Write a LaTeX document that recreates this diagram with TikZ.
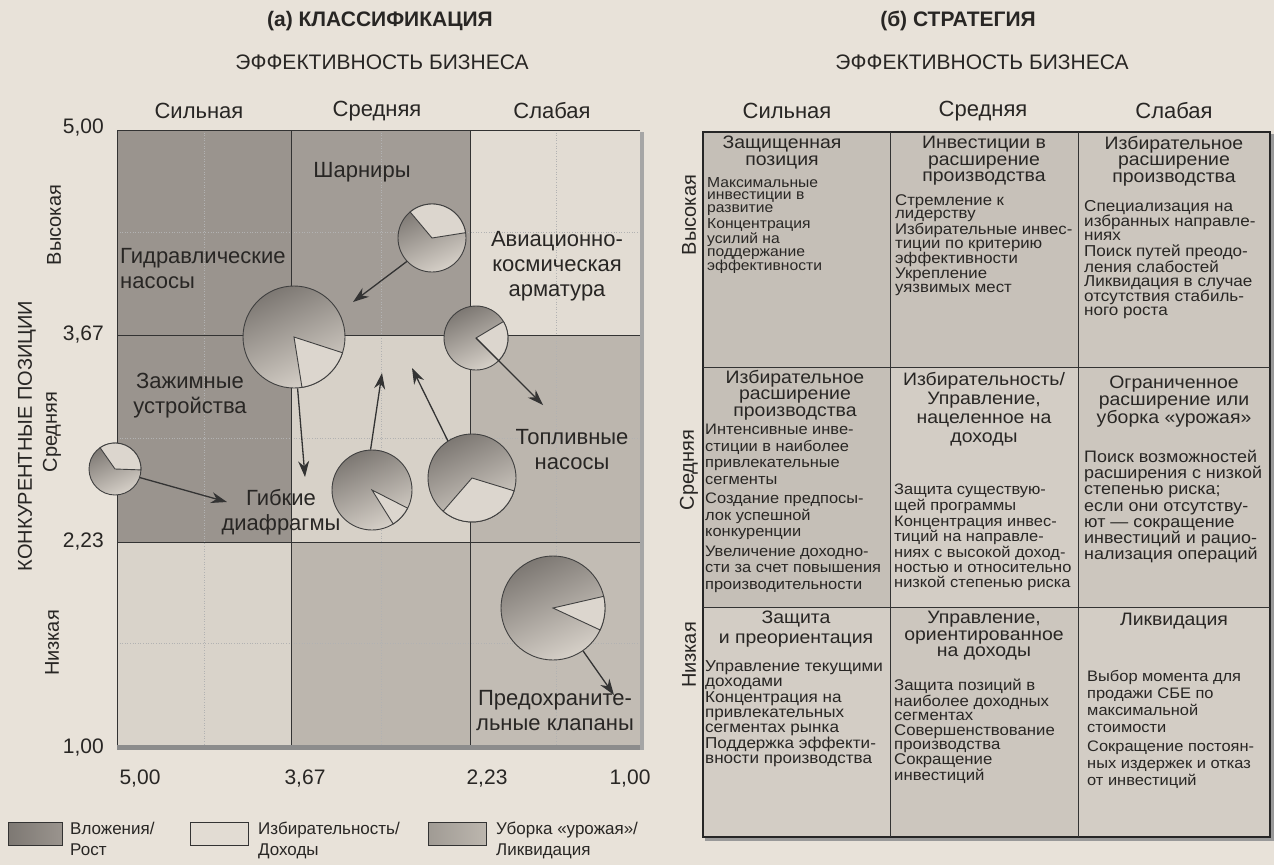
\documentclass[tikz,border=0pt]{standalone}
\usepackage{fontspec}
\setmainfont{Liberation Sans}
\newfontfamily\wf{Liberation Sans}[FakeStretch=1.08]
\usetikzlibrary{arrows.meta}
\definecolor{paper}{RGB}{232,226,217}
\definecolor{ink}{RGB}{40,38,36}
\definecolor{cdark}{RGB}{154,148,142}
\definecolor{cdarkB}{RGB}{162,156,150}
\definecolor{clight}{RGB}{226,220,211}
\definecolor{cmed}{RGB}{188,182,174}
\definecolor{pietop}{RGB}{125,120,115}
\definecolor{piebot}{RGB}{214,208,200}
\definecolor{sect}{RGB}{220,214,206}
\definecolor{tA}{RGB}{197,191,183}
\definecolor{tB}{RGB}{204,198,190}
\definecolor{tC}{RGB}{211,205,197}
\newcommand\piesector[4]{\filldraw[sector] (#1.center) -- ++(#3:#2pt) arc[start angle=#3, end angle=#4, radius=#2pt] -- cycle;}
\newcommand\fs[2]{\wf\fontsize{#1}{#2}\selectfont}
\begin{document}
\begin{tikzpicture}[x=1pt,y=-1pt,
  lbl/.style={font=\fontsize{22}{25}\selectfont, inner sep=0pt, align=center, text=ink},
  num/.style={font=\fontsize{21}{24}\selectfont, inner sep=0pt, text=ink},
  ttl/.style={font=\bfseries\fontsize{21}{24}\selectfont, inner sep=0pt, text=ink},
  rot/.style={font=\fontsize{20}{22}\selectfont, inner sep=0pt, rotate=90, text=ink},
  pie/.style={circle, draw=black!75, line width=0.9pt, inner sep=0pt, top color=pietop, bottom color=piebot, shading angle=25},
  sector/.style={fill=sect, draw=black!75, line width=0.9pt},
  arr/.style={draw=black!80, line width=1.3pt, -{Stealth[length=16pt,width=11pt]}},
  grid/.style={draw=black!80, line width=0.9pt},
  faint/.style={draw=black!30, line width=0.6pt, dotted},
  head/.style={align=center, inner sep=0pt, anchor=north, text=ink},
  body/.style={align=left, inner sep=0pt, anchor=north west, text=ink},
  leg/.style={font=\fontsize{17}{21}\selectfont, align=left, inner sep=0pt, anchor=north west, text=ink},
  swatch/.style={draw=black!80, line width=0.9pt}
]
\fill[paper] (0,0) rectangle (1274,865);
\useasboundingbox (0,0) rectangle (1274,865);

% ===== (a) classification =====
\node[ttl] (ta) at (380,21) {(а) КЛАССИФИКАЦИЯ};
\node[lbl, font=\fontsize{21}{24}\selectfont] (ea) at (382,62) {ЭФФЕКТИВНОСТЬ БИЗНЕСА};
\node[lbl] (ha1) at (199,111) {Сильная};
\node[lbl] (ha2) at (377,111) {Средняя};
\node[lbl] (ha3) at (552,111) {Слабая};

% cells
\fill[cdark] (117,130) rectangle (291,335);
\fill[cdarkB] (291,130) rectangle (470,335);
\fill[clight] (470,130) rectangle (640,335);
\fill[cdark] (117,335) rectangle (291,542);
\fill[clight!95!black] (291,335) rectangle (470,542);
\fill[cmed] (470,335) rectangle (640,542);
\fill[clight!96!black] (117,542) rectangle (291,745);
\fill[cmed] (291,542) rectangle (470,745);
\fill[cmed!85!clight] (470,542) rectangle (640,745);
% faint dotted grid
\foreach \xx in {204,381,556} \draw[faint] (\xx,130) -- (\xx,745);
\foreach \yy in {232,438,643} \draw[faint] (117,\yy) -- (640,\yy);
% shadow strips
\fill[black!45] (117,745) rectangle (644,750);
\fill[black!35] (640,132) rectangle (644,750);
% grid lines
\draw[grid] (117,130) -- (640,130);
\draw[grid] (117,130) -- (117,745);
\draw[grid] (291,130) -- (291,745);
\draw[grid] (470,130) -- (470,745);
\draw[grid] (117,335) -- (640,335);
\draw[grid] (117,542) -- (640,542);

% axis numbers
\node[num, anchor=east] (y5) at (104,128) {5,00};
\node[num, anchor=east] (y3) at (104,335) {3,67};
\node[num, anchor=east] (y2) at (104,542) {2,23};
\node[num, anchor=east] (y1) at (104,747) {1,00};
\node[num] (x5) at (140,778) {5,00};
\node[num] (x3) at (305,778) {3,67};
\node[num] (x2) at (487,778) {2,23};
\node[num] (x1) at (630,778) {1,00};
\node[rot] (rh) at (54,225) {Высокая};
\node[rot] (rm) at (52,432) {Средняя};
\node[rot] (rl) at (52,643) {Низкая};
\node[rot] (axy) at (27,436) {КОНКУРЕНТНЫЕ ПОЗИЦИИ};

% cell labels
\node[lbl, align=left, anchor=west] (lg) at (120,269) {Гидравлические\\насосы};
\node[lbl] (lsh) at (362,172) {Шарниры};
\node[lbl] (lav) at (557,266) {Авиационно-\\космическая\\арматура};
\node[lbl] (lza) at (190,396) {Зажимные\\устройства};
\node[lbl] (lto) at (572,450) {Топливные\\насосы};
\node[lbl] (lgi) at (281,512) {Гибкие\\диафрагмы};
\node[lbl] (lpr) at (555,711) {Предохраните-\\льные клапаны};

% pies
\node[pie, minimum size=102pt] (p1) at (294,337) {};
\piesector{p1}{51}{-81}{-18}
\node[pie, minimum size=68pt] (p2) at (432,238) {};
\piesector{p2}{34}{9}{130}
\node[pie, minimum size=80pt] (p3) at (372,490) {};
\piesector{p3}{40}{-58}{-27}
\node[pie, minimum size=88pt] (p4) at (472,478) {};
\piesector{p4}{44}{-131}{-17}
\node[pie, minimum size=64pt] (p5) at (476,338) {};
\piesector{p5}{32}{-45}{31}
\node[pie, minimum size=52pt] (p6) at (115,469) {};
\piesector{p6}{26}{-2}{125}
\node[pie, minimum size=104pt] (p7) at (553,608) {};
\piesector{p7}{52}{-25}{13}

% arrows
\coordinate (t1) at (353,302);
\coordinate (t2) at (305,477);
\coordinate (t3) at (382,373);
\coordinate (t4) at (412,368);
\coordinate (t5) at (543,405);
\coordinate (t6) at (227,502);
\coordinate (t7) at (614,695);
\draw[arr] (p2.-137) -- (t1);
\draw[arr] (p1.-86) -- (t2);
\draw[arr] (p3.92) -- (t3);
\draw[arr] (p4.123) -- (t4);
\draw[arr] (p5.center) -- (t5);
\draw[arr] (p6.-19) -- (t6);
\draw[arr] (p7.-55) -- (t7);

% legend
\shade[swatch, left color=pietop, right color=cdark] (8,822) rectangle (62,845);
\node[leg] (lg1) at (70,822) {Вложения/\\Рост};
\fill[swatch, fill=clight] (190,822) rectangle (248,845);
\node[leg] (lg2) at (258,822) {Избирательность/\\Доходы};
\shade[swatch, left color=cmed!85!black, right color=cmed] (428,822) rectangle (486,845);
\node[leg] (lg3) at (496,822) {Уборка «урожая»/\\Ликвидация};

% ===== (б) strategy =====
\node[ttl] (tb) at (958,21) {(б) СТРАТЕГИЯ};
\node[lbl, font=\fontsize{21}{24}\selectfont] (eb) at (982,62) {ЭФФЕКТИВНОСТЬ БИЗНЕСА};
\node[lbl] (hb1) at (787,111) {Сильная};
\node[lbl] (hb2) at (983,111) {Средняя};
\node[lbl] (hb3) at (1174,111) {Слабая};

\fill[tA] (703,132) rectangle (890,367);
\fill[tA!95!paper] (890,132) rectangle (1078,367);
\fill[tB] (1078,132) rectangle (1270,367);
\fill[tA] (703,367) rectangle (890,607);
\fill[tC] (890,367) rectangle (1078,607);
\fill[tB] (1078,367) rectangle (1270,607);
\fill[tC] (703,607) rectangle (890,837);
\fill[tB] (890,607) rectangle (1078,837);
\fill[tC] (1078,607) rectangle (1270,837);
\fill[black!40] (705,837) rectangle (1274,841);
\fill[black!40] (1270,134) rectangle (1274,841);
\draw[black!85, line width=1.2pt] (703,132) rectangle (1270,837);
\draw[grid] (890,132) -- (890,837);
\draw[grid] (1078,132) -- (1078,837);
\draw[grid] (703,367) -- (1270,367);
\draw[grid] (703,607) -- (1270,607);

\node[rot] (rbh) at (689,215) {Высокая};
\node[rot] (rbm) at (689,470) {Средняя};
\node[rot] (rbl) at (689,655) {Низкая};

% row 1
\node[head, font=\fs{18}{16.5}] (h11) at (782,136) {Защищенная\\позиция};
\node[body, font=\fs{14.5}{12.8}] (b11) at (707,177) {Максимальные\\инвестиции в\\развитие\\[2pt]Концентрация\\усилий на\\поддержание\\эффективности};
\node[head, font=\fs{18}{16.5}] (h12) at (984,136) {Инвестиции в\\расширение\\производства};
\node[body, font=\fs{15.5}{13.8}] (b12) at (895,194) {Стремление к\\лидерству\\Избирательные инвес-\\тиции по критерию\\эффективности\\Укрепление\\уязвимых мест};
\node[head, font=\fs{18}{16.5}] (h13) at (1174,136) {Избирательное\\расширение\\производства};
\node[body, font=\fs{15.8}{13.7}] (b13) at (1084,200) {Специализация на\\избранных направле-\\ниях\\[2pt]Поиск путей преодо-\\ления слабостей\\Ликвидация в случае\\отсутствия стабиль-\\ного роста};
% row 2
\node[head, font=\fs{18}{16.5}] (h21) at (795,370) {Избирательное\\расширение\\производства};
\node[body, font=\fs{15.2}{16.5}] (b21) at (705,424) {Интенсивные инве-\\стиции в наиболее\\привлекательные\\сегменты\\[3pt]Создание предпосы-\\лок успешной\\конкуренции\\[3pt]Увеличение доходно-\\сти за счет повышения\\производительности};
\node[head, font=\fs{18}{19}] (h22) at (984,372) {Избирательность/\\Управление,\\нацеленное на\\доходы};
\node[body, font=\fs{15.2}{15.3}] (b22) at (894,484) {Защита существую-\\щей программы\\[1pt]Концентрация инвес-\\тиций на направле-\\ниях с высокой доход-\\ностью и относительно\\низкой степенью риска};
\node[head, font=\fs{18}{16.5}] (h23) at (1174,376) {Ограниченное\\расширение или\\уборка «урожая»};
\node[body, font=\fs{16.6}{16.2}] (b23) at (1084,450) {Поиск возможностей\\расширения с низкой\\степенью риска;\\если они отсутству-\\ют — сокращение\\инвестиций и рацио-\\нализация операций};
% row 3
\node[head, font=\fs{18}{20}] (h31) at (796,611) {Защита\\и преориентация};
\node[body, font=\fs{15.8}{15}] (b31) at (705,660) {Управление текущими\\доходами\\[1pt]Концентрация на\\привлекательных\\сегментах рынка\\[1pt]Поддержка эффекти-\\вности производства};
\node[head, font=\fs{18}{16.5}] (h32) at (984,611) {Управление,\\ориентированное\\на доходы};
\node[body, font=\fs{15.5}{14.2}] (b32) at (894,679) {Защита позиций в\\наиболее доходных\\сегментах\\[1pt]Совершенствование\\производства\\[1pt]Сокращение\\инвестиций};
\node[head, font=\fs{18}{16.5}] (h33) at (1174,613) {Ликвидация};
\node[body, font=\fs{15.2}{17}] (b33) at (1087,670) {Выбор момента для\\продажи СБЕ по\\максимальной\\стоимости\\[2pt]Сокращение постоян-\\ных издержек и отказ\\от инвестиций};
\end{tikzpicture}
\end{document}
